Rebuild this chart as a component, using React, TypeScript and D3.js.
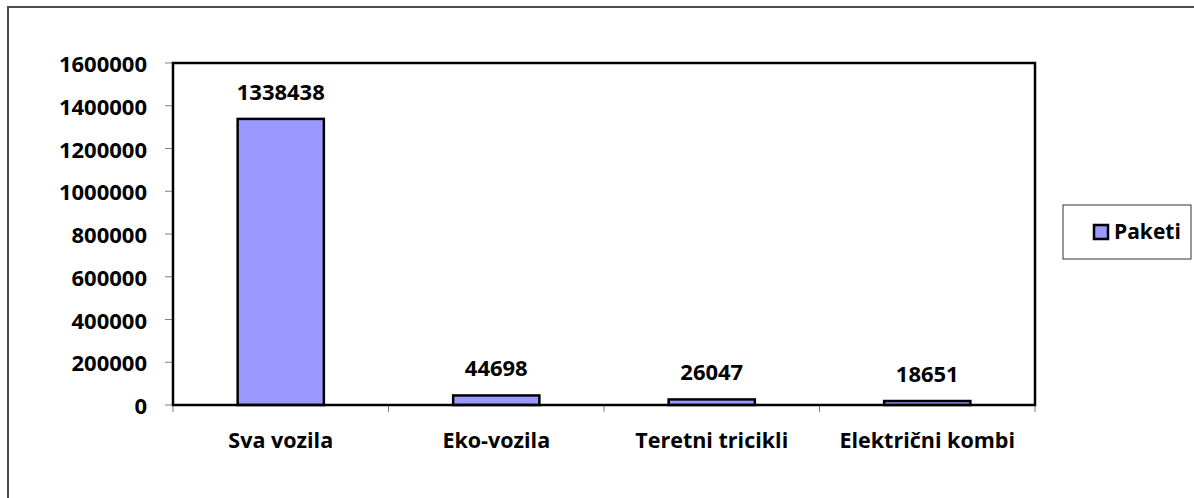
import { useMemo } from "react";
import * as d3 from "d3";

const categories = ["Sva vozila", "Eko-vozila", "Teretni tricikli", "Električni kombi"];
const paketi = [1338438, 44698, 26047, 18651];
const yTicks = [0, 200000, 400000, 600000, 800000, 1000000, 1200000, 1400000, 1600000];
const seriesName = "Paketi";

const FONT = "'Open Sans', 'Noto Sans', sans-serif";
const BAR_FILL = "#9999FF";

export default function App() {
  const plot = { left: 173, top: 63, right: 1035, bottom: 405 };

  const x = useMemo(
    () =>
      d3
        .scaleBand<string>()
        .domain(categories)
        .range([plot.left, plot.right])
        .paddingInner(0.6)
        .paddingOuter(0.3),
    []
  );
  const y = useMemo(
    () => d3.scaleLinear().domain([0, 1600000]).range([plot.bottom, plot.top]),
    []
  );

  const step = x.step();
  const boundaries = d3.range(categories.length + 1).map((i) => plot.left + i * step);

  return (
    <svg
      width={1194}
      height={498}
      style={{ position: "fixed", left: 0, top: 0, background: "#fff" }}
    >
      {/* outer chart frame */}
      <rect x={8} y={7} width={1300} height={700} fill="none" stroke="#4d4d4d" strokeWidth={2} />

      {/* y tick marks and labels */}
      {yTicks.map((t) => (
        <g key={t}>
          <line x1={165} x2={plot.left} y1={y(t)} y2={y(t)} stroke="#808080" strokeWidth={1} />
          <text
            x={147}
            y={y(t) + 9}
            textAnchor="end"
            fontFamily={FONT}
            fontWeight={700}
            fontSize={22}
            fill="#000"
          >
            {t}
          </text>
        </g>
      ))}

      {/* x tick marks */}
      {boundaries.map((bx, i) => (
        <line key={i} x1={bx} x2={bx} y1={plot.bottom} y2={412} stroke="#808080" strokeWidth={1} />
      ))}

      {/* bars */}
      {categories.map((c, i) => (
        <rect
          key={c}
          x={x(c)!}
          y={y(paketi[i])}
          width={x.bandwidth()}
          height={plot.bottom - y(paketi[i])}
          fill={BAR_FILL}
          stroke="#000"
          strokeWidth={2.5}
        />
      ))}

      {/* plot frame */}
      <rect
        x={plot.left}
        y={plot.top}
        width={plot.right - plot.left}
        height={plot.bottom - plot.top}
        fill="none"
        stroke="#000"
        strokeWidth={2.5}
      />

      {/* value labels */}
      {categories.map((c, i) => (
        <text
          key={c}
          x={x(c)! + x.bandwidth() / 2}
          y={y(paketi[i]) - 19}
          textAnchor="middle"
          fontFamily={FONT}
          fontWeight={700}
          fontSize={22}
          fill="#000"
        >
          {paketi[i]}
        </text>
      ))}

      {/* category labels */}
      {categories.map((c) => (
        <text
          key={c}
          x={x(c)! + x.bandwidth() / 2}
          y={448}
          textAnchor="middle"
          fontFamily={FONT}
          fontWeight={700}
          fontSize={21.5}
          fill="#000"
        >
          {c}
        </text>
      ))}

      {/* legend */}
      <rect x={1063} y={205} width={128} height={54} fill="#fff" stroke="#333" strokeWidth={1} />
      <rect x={1094} y={225} width={14} height={14} fill={BAR_FILL} stroke="#000" strokeWidth={2.5} />
      <text x={1114} y={239} fontFamily={FONT} fontWeight={700} fontSize={21} fill="#000">
        {seriesName}
      </text>
    </svg>
  );
}
